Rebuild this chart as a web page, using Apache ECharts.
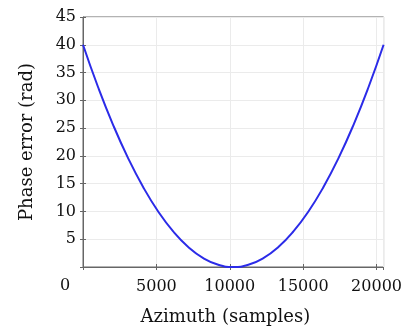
<!DOCTYPE html>
<html>
<head>
<meta charset="UTF-8">
<script src="https://cdn.jsdelivr.net/npm/echarts@6/dist/echarts.min.js"></script>
<style>
  body { margin: 0; background: #fff; }
  #main { width: 405px; height: 334px; }
</style>
</head>
<body>
<div id="main"></div>
<script>
    // azimuth samples and phase error
    var azimuth = [0, 1024, 2048, 3072, 4096, 5120, 6144, 7168, 8192, 9216, 10240,
        11264, 12288, 13312, 14336, 15360, 16384, 17408, 18432, 19456, 20480];
    var phaseErr = [40, 32.4, 25.6, 19.6, 14.4, 10, 6.4, 3.6, 1.6, 0.4, 0,
        0.4, 1.6, 3.6, 6.4, 10, 14.4, 19.6, 25.6, 32.4, 40];
    var yTicks = [0, 5, 10, 15, 20, 25, 30, 35, 40, 45];

    var pts = [];
    for (var i = 0; i < azimuth.length; i++) {
        pts.push([azimuth[i], phaseErr[i]]);
    }

    var font = 'DejaVu Serif';
    var chart = echarts.init(document.getElementById('main'));
    chart.setOption({
        animation: false,
        grid: { left: 83, right: 21, top: 17, bottom: 67, show: true, borderColor: '#666', borderWidth: 1 },
        xAxis: [{
            type: 'value', min: 0, max: 20480, interval: 5000,
            name: 'Azimuth (samples)', nameLocation: 'middle', nameGap: 41,
            nameTextStyle: { fontFamily: font, fontSize: 18, color: '#111', padding: [0, 16, 0, 0] },
            axisLine: { show: true, lineStyle: { color: '#666' } },
            axisTick: { show: true, inside: true, length: 3, lineStyle: { color: '#666' } },
            axisLabel: {
                showMinLabel: false, showMaxLabel: false, margin: 12,
                fontFamily: font, fontSize: 16, color: '#111',
                formatter: function (v) { return String(v); }
            },
            splitLine: { show: true, lineStyle: { color: '#ebebeb' } }
        }, {
            type: 'value', position: 'top', min: 0, max: 20480, interval: 5000,
            axisLine: { show: false },
            axisTick: { show: true, inside: true, length: 3, lineStyle: { color: '#666' } },
            axisLabel: { show: false }, splitLine: { show: false }
        }],
        yAxis: [{
            type: 'value', min: yTicks[0], max: yTicks[yTicks.length - 1], interval: 5,
            name: 'Phase error (rad)', nameLocation: 'middle', nameGap: 47,
            nameTextStyle: { fontFamily: font, fontSize: 18, color: '#111' },
            axisLine: { show: true, lineStyle: { color: '#666' } },
            axisTick: { show: true, inside: true, length: 3, lineStyle: { color: '#666' } },
            axisLabel: { showMinLabel: false, margin: 7, fontFamily: font, fontSize: 16, color: '#111' },
            splitLine: { show: true, lineStyle: { color: '#ebebeb' } }
        }, {
            type: 'value', position: 'right', min: 0, max: 45, interval: 5,
            axisLine: { show: false },
            axisTick: { show: true, inside: true, length: 3, lineStyle: { color: '#666' } },
            axisLabel: { show: false }, splitLine: { show: false }
        }],
        graphic: [{
            type: 'text', left: 60, top: 278,
            style: { text: '0', font: '16px "DejaVu Serif"', fill: '#111' }
        }],
        series: [{
            type: 'line',
            data: pts,
            smooth: true,
            showSymbol: false,
            lineStyle: { color: '#2b2be8', width: 2 }
        }]
    });
</script>
</body>
</html>
